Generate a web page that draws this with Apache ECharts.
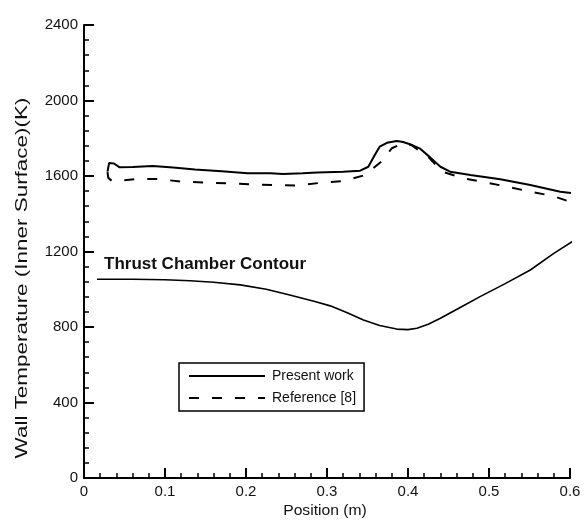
<!DOCTYPE html>
<html>
<head>
<meta charset="utf-8">
<script src="https://cdn.jsdelivr.net/npm/echarts@6/dist/echarts.min.js"></script>
<style>html,body{margin:0;padding:0;background:#fff}#c{width:584px;height:521px}</style>
</head>
<body>
<div id="c"></div>
<script>
var xTicks = [0, 0.1, 0.2, 0.3, 0.4, 0.5, 0.6];
var yTicks = [0, 400, 800, 1200, 1600, 2000, 2400];

var presentX = [0.029, 0.031, 0.037, 0.044, 0.06, 0.085, 0.11, 0.137, 0.17, 0.202, 0.23, 0.246, 0.27, 0.288, 0.32, 0.341, 0.351, 0.359, 0.365, 0.374, 0.386, 0.394, 0.405, 0.415, 0.427, 0.44, 0.452, 0.477, 0.514, 0.551, 0.588, 0.604, 0.616];
var presentT = [1623, 1669, 1666, 1646, 1648, 1653, 1645, 1635, 1625, 1614, 1615, 1611, 1614, 1618, 1622, 1628, 1649, 1711, 1755, 1776, 1785, 1780, 1764, 1745, 1700, 1649, 1623, 1605, 1583, 1552, 1517, 1508, 1478];

var refX = [0.029, 0.030, 0.035, 0.063, 0.091, 0.121, 0.149, 0.178, 0.207, 0.236, 0.263, 0.294, 0.320, 0.347, 0.367, 0.380, 0.395, 0.405, 0.412, 0.425, 0.442, 0.468, 0.497, 0.523, 0.551, 0.579, 0.606, 0.618];
var refT = [1620, 1590, 1572, 1583, 1584, 1570, 1565, 1561, 1556, 1552, 1549, 1565, 1573, 1605, 1676, 1747, 1775, 1762, 1740, 1702, 1623, 1588, 1565, 1543, 1517, 1494, 1455, 1425];

var contourX = [0.016, 0.06, 0.1, 0.131, 0.16, 0.193, 0.225, 0.254, 0.285, 0.304, 0.325, 0.345, 0.365, 0.386, 0.4, 0.411, 0.425, 0.44, 0.465, 0.489, 0.52, 0.551, 0.58, 0.612, 0.617];
var contourT = [1053, 1053, 1050, 1045, 1037, 1023, 1000, 970, 935, 912, 875, 837, 808, 789, 786, 793, 815, 846, 905, 961, 1030, 1102, 1190, 1278, 1300];

var seriesNames = ['Present work', 'Reference [8]'];
var contourLabel = 'Thrust Chamber Contour';
var xName = 'Position (m)';
var yName = 'Wall Temperature (Inner Surface)(K)';

function zip(a, b) { return a.map(function (v, i) { return [v, b[i]]; }); }

var chart = echarts.init(document.getElementById('c'), null, {renderer: 'canvas'});
var fontFam = '"Liberation Sans", Arial, sans-serif';
chart.setOption({
  animation: false,
  backgroundColor: '#fff',
  grid: {left: 84, right: 14, top: 25, bottom: 43},
  xAxis: {
    type: 'value', min: xTicks[0], max: xTicks[xTicks.length - 1], interval: 0.1,
    axisLine: {show: true, lineStyle: {color: '#000', width: 2}},
    axisTick: {show: true, inside: true, length: 10, lineStyle: {color: '#000', width: 2}},
    minorTick: {show: true, splitNumber: 5, length: 5, lineStyle: {color: '#000', width: 1.5}},
    splitLine: {show: false},
    axisLabel: {color: '#111', fontSize: 15, fontFamily: fontFam, margin: 6,
      formatter: function (v) { return String(+v.toFixed(1)); }}
  },
  yAxis: {
    type: 'value', min: yTicks[0], max: yTicks[yTicks.length - 1], interval: 400,
    axisLine: {show: true, lineStyle: {color: '#000', width: 2}},
    axisTick: {show: true, inside: true, length: 10, lineStyle: {color: '#000', width: 2}},
    minorTick: {show: true, splitNumber: 5, length: 5, lineStyle: {color: '#000', width: 1.5}},
    splitLine: {show: false},
    axisLabel: {color: '#111', fontSize: 15, fontFamily: fontFam, margin: 6,
      formatter: function (v) { return String(v); }}
  },
  legend: {
    orient: 'vertical', left: 179, top: 363, width: 208,
    data: seriesNames,
    itemWidth: 76, itemHeight: 12, itemGap: 8,
    padding: [6, 8, 6, 9],
    borderColor: '#000', borderWidth: 1.5,
    itemStyle: {opacity: 0},
    textStyle: {color: '#111', fontSize: 14, fontFamily: fontFam, padding: [0, 0, 0, 2]}
  },
  graphic: [
    {type: 'text', left: 104, top: 256,
      style: {text: contourLabel, fill: '#111', font: 'bold 17px ' + fontFam}},
    {type: 'text', x: 22, y: 278, rotation: Math.PI / 2, scaleX: 1.32,
      style: {text: yName, fill: '#111', font: '17px ' + fontFam, align: 'center', verticalAlign: 'middle'}},
    {type: 'text', x: 325, y: 511, scaleX: 1.12,
      style: {text: xName, fill: '#111', font: '14px ' + fontFam, align: 'center', verticalAlign: 'middle'}}
  ],
  series: [
    {name: seriesNames[0], type: 'line', data: zip(presentX, presentT), showSymbol: false, symbol: 'none',
      clip: false, lineStyle: {color: '#000', width: 2, type: 'solid'}, itemStyle: {color: '#000'}},
    {name: seriesNames[1], type: 'line', data: zip(refX, refT), showSymbol: false, symbol: 'none',
      clip: false, lineStyle: {color: '#000', width: 2, type: [10, 13]}, itemStyle: {color: '#000'}},
    {name: contourLabel, type: 'line', data: zip(contourX, contourT), showSymbol: false, symbol: 'none',
      clip: false, lineStyle: {color: '#000', width: 1.6, type: 'solid'}, itemStyle: {color: '#000'}}
  ]
});
</script>
</body>
</html>
